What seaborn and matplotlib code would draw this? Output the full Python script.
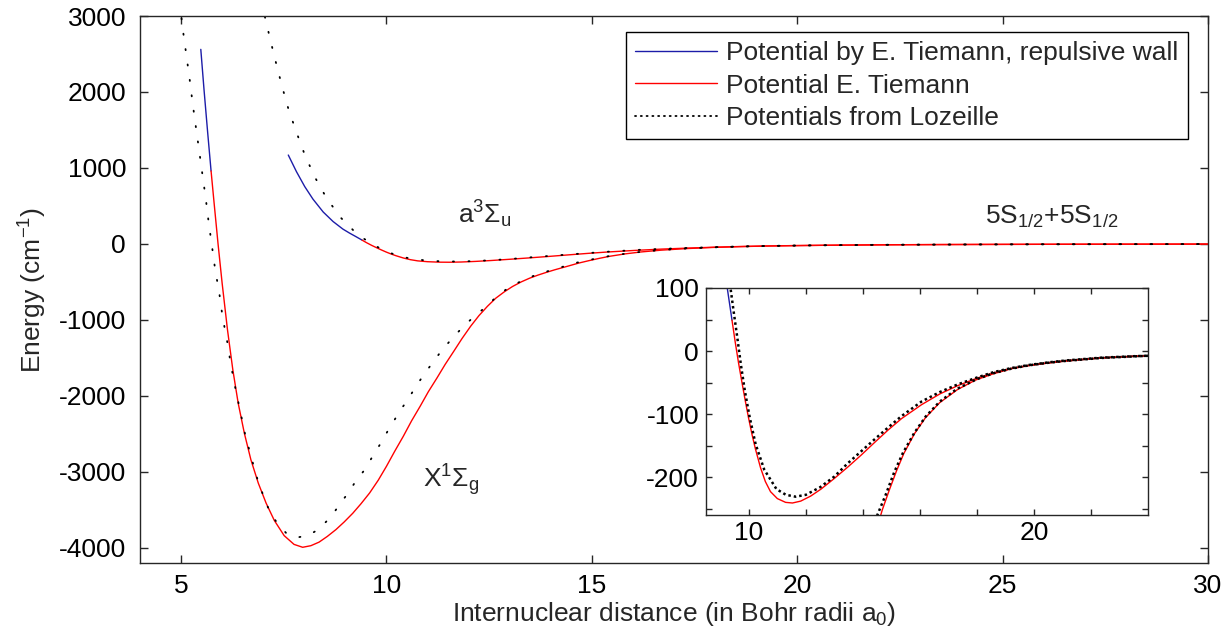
import matplotlib
matplotlib.use("Agg")
import matplotlib.pyplot as plt
import seaborn as sns

# ---- Rb2 potential curves (energy in cm^-1, distance in Bohr radii) ----
# X 1Sigma_g, repulsive wall (Tiemann)
singlet_wall_x = [5.48, 5.56, 5.645, 5.73]
singlet_wall_y = [2561, 2020, 1480, 960]
# X 1Sigma_g (Tiemann)
singlet_x = [5.73, 5.80, 5.90, 6.00, 6.13, 6.26, 6.39, 6.54, 6.70, 6.88, 7.07, 7.27, 7.51,
             7.75, 7.96, 8.16, 8.36, 8.56, 8.77, 8.97, 9.18, 9.38, 9.59, 9.80, 10.0, 10.2,
             10.41, 10.61, 10.82, 11.02, 11.23, 11.43, 11.64, 11.84, 12.05, 12.25, 12.46,
             12.66, 12.87, 13.07, 13.28, 13.48, 13.69, 13.9, 14.1, 14.4, 14.68, 14.93,
             15.18, 15.43, 15.81, 16.19, 16.69, 17.32, 17.95, 18.58, 19.21, 19.84, 20.5,
             21.1, 22.35, 23.5, 25.0, 26.5, 28.0, 30.0]
singlet_y = [960, 560, 0, -520, -1132, -1658, -2096, -2491, -2842, -3149, -3412, -3640, -3840,
             -3955, -3993, -3972, -3925, -3850, -3760, -3660, -3545, -3420, -3278, -3110, -2927,
             -2730, -2532, -2330, -2137, -1945, -1764, -1585, -1412, -1245, -1083, -945, -820,
             -715, -630, -560, -500, -452, -410, -373, -340, -295, -252, -220,
             -190, -163, -131, -106, -82, -61, -46, -36, -28, -23, -19,
             -16, -11, -8.3, -6.0, -4.3, -3.1, -2.0]

# a 3Sigma_u, repulsive wall (Tiemann)
triplet_wall_x = [7.61, 7.81, 8.01, 8.21, 8.46, 8.70, 8.94, 9.10, 9.25, 9.41]
triplet_wall_y = [1170, 950, 755, 590, 420, 295, 195, 143, 98, 49]
# a 3Sigma_u (Tiemann)
triplet_x = [9.41, 9.52, 9.64, 9.76, 9.88, 9.99, 10.11, 10.23, 10.41, 10.58, 10.76, 11.0,
             11.29, 11.53, 11.82, 12.17, 12.53, 13.0, 13.47, 13.94, 14.41, 14.89, 15.36,
             16.06, 16.7, 17.32, 18.0, 18.58, 19.2, 19.84, 20.5, 21.1, 22.35, 23.5, 25.0,
             26.5, 28.0, 30.0]
triplet_y = [49, 15, -19, -50, -80, -106, -132, -155, -185, -207, -223, -234,
             -240, -241, -238, -230, -219, -202, -184, -165, -145, -125, -107,
             -85, -68, -55, -43, -34.5, -27.5, -22.5, -18.5, -15.3, -10.7, -8.3, -6.0,
             -4.4, -3.2, -2.1]

# Lozeille potentials
loz_singlet_x = [5.01, 5.05, 5.13, 5.21, 5.28, 5.36, 5.44, 5.52, 5.60, 5.67, 5.75, 5.83, 5.93,
                 6.01, 6.12, 6.21, 6.32, 6.44, 6.56, 6.71, 6.87, 7.07, 7.19, 7.36, 7.56, 7.82,
                 8.10, 8.35, 8.56, 8.74, 8.91, 9.09, 9.24, 9.44, 9.59, 9.74, 9.89, 10.04,
                 10.20, 10.35, 10.52, 10.68, 10.84, 11.0, 11.18, 11.35, 11.54, 11.74, 11.94,
                 12.16, 12.39, 12.62, 12.87, 13.11, 13.38, 13.65, 13.92, 14.2, 14.49, 14.8,
                 15.1, 15.4, 15.8, 16.2, 16.7, 17.3, 18.0, 18.6, 19.2, 19.84, 20.5, 21.1,
                 22.35, 24.0, 26.0, 28.0, 30.0]
loz_singlet_y = [2970, 2793, 2478, 2162, 1855, 1539, 1228, 912, 601, 289, -22, -338, -647,
                 -961, -1276, -1583, -1895, -2201, -2509, -2812, -3118, -3412, -3557, -3688,
                 -3807, -3864, -3838, -3754, -3641, -3522, -3391, -3263, -3132, -2993, -2861,
                 -2729, -2598, -2453, -2312, -2181, -2049, -1908, -1777, -1654, -1522, -1399,
                 -1281, -1162, -1052, -943, -842, -725, -615, -535, -465, -405, -360, -318,
                 -262, -228, -192, -162, -130, -104, -80, -60, -44.5, -35, -28, -22.5, -18.6,
                 -15.7, -11.0, -7.5, -4.7, -3.0, -2.0]

loz_triplet_x = [7.04, 7.18, 7.31, 7.46, 7.62, 7.81, 8.01, 8.25, 8.53, 8.87, 9.28, 9.36, 9.47,
                 9.60, 9.72, 9.86, 10.03, 10.24, 10.54, 10.97, 11.3, 11.64, 12.0, 12.5, 13.0,
                 13.47, 13.94, 14.41, 14.89, 15.36, 16.06, 16.7, 17.32, 18.0, 18.58, 19.2,
                 19.84, 20.5, 21.1, 22.35, 23.5, 25.0, 26.5, 28.0, 30.0]
loz_triplet_y = [2991, 2670, 2385, 2070, 1763, 1469, 1175, 886, 614, 355, 132, 99, 62,
                 20, -21, -63, -105, -148, -188, -219, -228, -231, -228, -216, -199,
                 -178, -159, -140, -121, -103, -80, -65, -53, -42, -33.5, -27,
                 -22, -18, -15, -10.5, -8.2, -5.9, -4.3, -3.1, -2.0]

main_xticks = [5, 10, 15, 20, 25, 30]
main_yticks = [-4000, -3000, -2000, -1000, 0, 1000, 2000, 3000]
inset_xticks = [10, 12, 14, 16, 18, 20, 22]
inset_xticklabels = ["10", "", "", "", "", "20", ""]
inset_yticks = [-250, -200, -150, -100, -50, 0, 50, 100]
inset_yticklabels = ["", "-200", "", "-100", "", "0", "", "100"]

legend_labels = ["Potential by E. Tiemann, repulsive wall",
                 "Potential E. Tiemann",
                 "Potentials from Lozeille"]

# ---- style ----
sns.set_style("ticks")
plt.rcParams["font.family"] = ["Liberation Sans", "DejaVu Sans"]
plt.rcParams["mathtext.fontset"] = "custom"
plt.rcParams["mathtext.rm"] = "Liberation Sans"
plt.rcParams["mathtext.it"] = "Liberation Sans"
plt.rcParams["mathtext.sf"] = "Liberation Sans"
plt.rcParams["mathtext.default"] = "regular"
plt.rcParams["axes.unicode_minus"] = False

FS = 19
INK = "#262626"
BLUE = "#1c1ca8"
RED = "#ff0000"

fig = plt.figure(figsize=(12.26, 6.43), dpi=100)
ax = fig.add_axes([0.1142, 0.1244, 0.8711, 0.8507])


def draw_curves(axis, dot_style, dot_lw, line_lw, dot_cap):
    handles = []
    for i, (xs, ys) in enumerate([(singlet_wall_x, singlet_wall_y),
                                  (triplet_wall_x, triplet_wall_y)]):
        sns.lineplot(x=xs, y=ys, ax=axis, color=BLUE, linewidth=line_lw,
                     sort=False, estimator=None, legend=False)
        if i == 0:
            handles.append(axis.lines[-1])
    for i, (xs, ys) in enumerate([(singlet_x, singlet_y), (triplet_x, triplet_y)]):
        sns.lineplot(x=xs, y=ys, ax=axis, color=RED, linewidth=line_lw,
                     sort=False, estimator=None, legend=False)
        if i == 0:
            handles.append(axis.lines[-1])
    for i, (xs, ys) in enumerate([(loz_singlet_x, loz_singlet_y),
                                  (loz_triplet_x, loz_triplet_y)]):
        sns.lineplot(x=xs, y=ys, ax=axis, color="black", linewidth=dot_lw,
                     linestyle=dot_style, sort=False, estimator=None, legend=False)
        axis.lines[-1].set_dash_capstyle(dot_cap)
        if i == 0:
            handles.append(axis.lines[-1])
    return handles


handles = draw_curves(ax, (0, (0.6, 8)), 1.3, 1.0, "round")

ax.set_xlim(4, 30)
ax.set_ylim(-4200, 3000)
ax.set_xticks(main_xticks)
ax.set_yticks(main_yticks)
ax.tick_params(direction="in", length=6, width=1.0, colors=INK, labelsize=FS,
               top=True, right=True, labelcolor="black")
ax.tick_params(axis="y", pad=10)
ax.tick_params(axis="x", pad=8)
for sp in ax.spines.values():
    sp.set_visible(True)
    sp.set_color(INK)
    sp.set_linewidth(1.0)

ax.set_xlabel(r"Internuclear distance (in Bohr radii a$_0$)", fontsize=FS, labelpad=1)
ax.set_ylabel(r"Energy (cm$^{-1}$)", fontsize=FS, labelpad=7)

ax.text(11.75, 270, r"a$^3\Sigma_u$", fontsize=FS, ha="left", va="baseline")
ax.text(10.9, -3200, r"X$^1\Sigma_g$", fontsize=FS, ha="left", va="baseline")
ax.text(24.58, 270, r"5S$_{1/2}$+5S$_{1/2}$", fontsize=FS, ha="left", va="baseline")

leg = ax.legend(handles, legend_labels, loc="upper right", bbox_to_anchor=(0.981, 0.971),
                fontsize=FS, frameon=True, fancybox=False, edgecolor="black",
                framealpha=1, borderpad=0.35, handlelength=3.1, handletextpad=0.35,
                labelspacing=0.32, borderaxespad=0.0)
leg.get_frame().set_linewidth(1.0)
leg.get_lines()[2].set_dashes([0.6, 2.6])

# ---- inset zoom on the triplet well ----
axin = fig.add_axes([0.5759, 0.1991, 0.3605, 0.3530])
draw_curves(axin, (0, (1, 1.2)), 1.8, 1.0, "butt")
axin.set_xlim(8.5, 24)
axin.set_ylim(-260, 100)
axin.set_xticks(inset_xticks)
axin.set_xticklabels(inset_xticklabels)
axin.set_yticks(inset_yticks)
axin.set_yticklabels(inset_yticklabels)
axin.tick_params(direction="in", length=4, width=1.0, colors=INK, labelsize=FS,
                 top=True, right=True, labelcolor="black")
axin.tick_params(axis="y", pad=5)
axin.tick_params(axis="x", pad=4)
for sp in axin.spines.values():
    sp.set_visible(True)
    sp.set_color(INK)
    sp.set_linewidth(1.0)
axin.set_facecolor("white")

fig.savefig("out.png", dpi=100)
